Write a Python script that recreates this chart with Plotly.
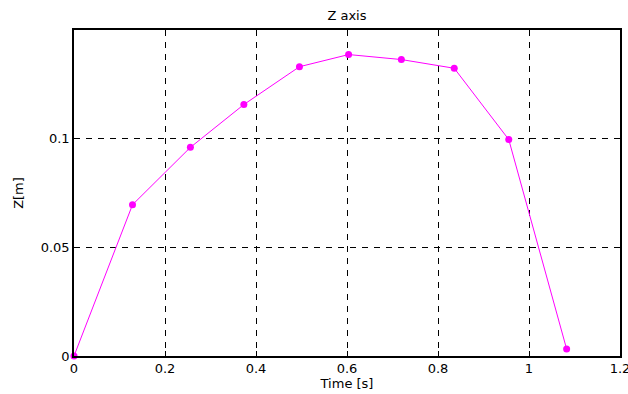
import plotly.graph_objects as go

time_s = [0.0, 0.1286, 0.2558, 0.3733, 0.4955, 0.6035, 0.7195, 0.8357, 0.9555, 1.0827]
z_m = [0.0, 0.0696, 0.0960, 0.1157, 0.1331, 0.1387, 0.1364, 0.1324, 0.0996, 0.0032]
x_ticks = [0, 0.2, 0.4, 0.6, 0.8, 1, 1.2]
x_ticklabels = ["0", "0.2", "0.4", "0.6", "0.8", "1", "1.2"]
y_ticks = [0, 0.05, 0.1]
y_ticklabels = ["0", "0.05", "0.1"]

FAM = "DejaVu Sans, Liberation Sans, sans-serif"
font = dict(family=FAM, size=13, color="black")

fig = go.Figure(go.Scatter(
    x=time_s, y=z_m, mode="lines+markers",
    line=dict(color="#ff00ff", width=1),
    marker=dict(color="#ff00ff", size=7),
    cliponaxis=False,
))

axis_common = dict(
    showline=True, linecolor="black", linewidth=1.5, mirror="ticks",
    ticks="inside", ticklen=5, tickcolor="black",
    showgrid=True, gridcolor="black", gridwidth=1, griddash="6px,6px",
    zeroline=False, tickfont=font, automargin=False,
    ticklabeloverflow="allow",
)

fig.update_layout(
    width=628, height=394,
    margin=dict(l=74, r=8, t=30, b=38),
    paper_bgcolor="white", plot_bgcolor="white",
    font=font,
    showlegend=False,
    title=dict(text="Z axis", x=0.5525, xanchor="center", y=0.962, yanchor="middle",
               font=dict(family=FAM, size=13, color="black")),
    xaxis=dict(range=[0, 1.2], tickvals=x_ticks, ticktext=x_ticklabels,
               title=dict(text="Time [s]", standoff=2, font=dict(family=FAM, size=13, color="black")),
               **axis_common),
    yaxis=dict(range=[0, 0.15], tickvals=y_ticks, ticktext=y_ticklabels,
               title=dict(text="Z[m]", standoff=14, font=dict(family=FAM, size=13, color="black")),
               **axis_common),
)

fig.write_html("out.html", config={"displayModeBar": False},
               post_script="document.body.style.margin='0';")
